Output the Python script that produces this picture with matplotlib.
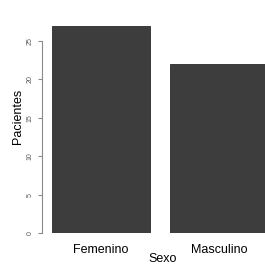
import matplotlib
matplotlib.use('Agg')
import matplotlib.pyplot as plt

plt.rcParams['font.family'] = ['Liberation Sans', 'DejaVu Sans']

sexo = ['Femenino', 'Masculino']
pacientes = [27, 22]

fig = plt.figure(figsize=(2.65, 2.66), dpi=100)
ax = fig.add_axes([42 / 265, 33 / 266, 223 / 265, 233 / 266])

# R barplot layout: width 1, space 0.2
lefts = [0.2, 1.4]
ax.bar(lefts, pacientes, width=1.0, align='edge', color='#3d3d3d',
       edgecolor='#2a2a2a', linewidth=0.6)

ax.set_xlim(0.099, 2.367)
ax.set_ylim(0, 30.34)

for s in ['top', 'right', 'bottom']:
    ax.spines[s].set_visible(False)
ax.spines['left'].set_bounds(0, 25)
ax.spines['left'].set_color('#8a8a8a')
ax.spines['left'].set_linewidth(0.8)

ax.set_yticks([0, 5, 10, 15, 20, 25])
ax.set_yticklabels(['0', '5', '10', '15', '20', '25'], rotation=90,
                   va='center', fontsize=5, color='#555555')
ax.tick_params(axis='y', length=3, width=0.8, color='#8a8a8a', pad=3)

ax.set_xticks([l + 0.5 for l in lefts])
ax.set_xticklabels(sexo, fontsize=9)
ax.tick_params(axis='x', length=0, pad=8)

ax.set_ylabel('Pacientes', fontsize=9, labelpad=2)
fig.text(163 / 265, 1 - 259 / 266, 'Sexo', fontsize=9, ha='center', va='center')

fig.savefig('out.png', dpi=100)
